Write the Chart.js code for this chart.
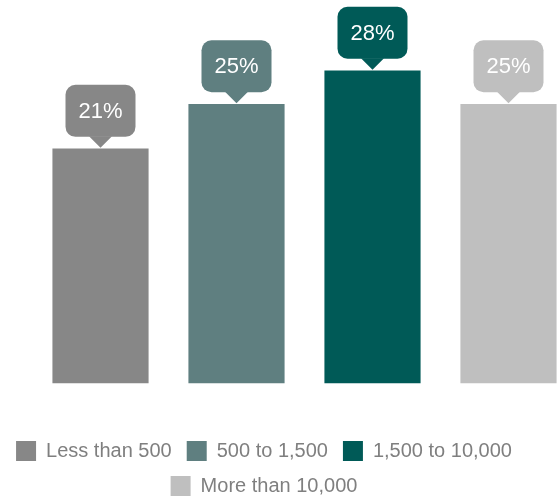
<!DOCTYPE html>
<html><head><meta charset="utf-8">
<script src="https://cdn.jsdelivr.net/npm/chart.js@4"></script>
<style>html,body{margin:0;padding:0;overflow:hidden;background:#fff}#wrap{width:558px;height:506px;position:relative}</style>
</head><body><div id="wrap"><canvas id="c"></canvas></div>
<script>
const categories = ['Less than 500', '500 to 1,500', '1,500 to 10,000', 'More than 10,000'];
const values = [21, 25, 28, 25];
const colors = ['#878787', '#5f7f80', '#005a57', '#bfbfbf'];

const calloutPlugin = {
  id: 'callouts',
  afterDatasetsDraw(chart) {
    const ctx = chart.ctx;
    chart.data.datasets.forEach((ds, i) => {
      const el = chart.getDatasetMeta(i).data[0];
      if (!el) return;
      const x = el.x, top = el.y;
      const tipY = top - 1, baseY = tipY - 11, h = 52, w = 70, r = 10;
      const bx = x - w / 2, by = baseY - h;
      ctx.save();
      ctx.fillStyle = ds.backgroundColor;
      ctx.beginPath();
      ctx.roundRect(bx, by, w, h, r);
      ctx.fill();
      ctx.beginPath();
      ctx.moveTo(x - 11.5, baseY - 0.5);
      ctx.lineTo(x + 11.5, baseY - 0.5);
      ctx.lineTo(x, tipY);
      ctx.closePath();
      ctx.fill();
      ctx.fillStyle = '#ffffff';
      ctx.font = '22px "Liberation Sans", Arial, sans-serif';
      ctx.textAlign = 'center';
      ctx.textBaseline = 'middle';
      ctx.fillText(ds.data[0].y + '%', x, by + h / 2 + 1);
      ctx.restore();
    });
  }
};

new Chart(document.getElementById('c'), {
  type: 'bar',
  data: {
    datasets: categories.map((c, i) => ({
      label: c,
      data: [{ x: i, y: values[i] }],
      backgroundColor: colors[i],
      borderWidth: 0,
      barThickness: 95.5,
      grouped: false,
      clip: false
    }))
  },
  options: {
    animation: false,
    responsive: true,
    maintainAspectRatio: false,
    layout: { padding: { top: 48.5, right: 30, left: 0, bottom: 0 } },
    scales: {
      x: { type: 'linear', offset: false, min: -0.739, max: 3.1434, display: false },
      y: { min: -3.857, max: 30, display: false }
    },
    plugins: {
      tooltip: { enabled: false },
      legend: {
        position: 'bottom',
        labels: {
          boxWidth: 20, boxHeight: 20, padding: 15,
          color: '#7f7f7f',
          font: { family: '"Liberation Sans", Arial, sans-serif', size: 20 }
        }
      }
    }
  },
  plugins: [calloutPlugin]
});
</script>
</body></html>
